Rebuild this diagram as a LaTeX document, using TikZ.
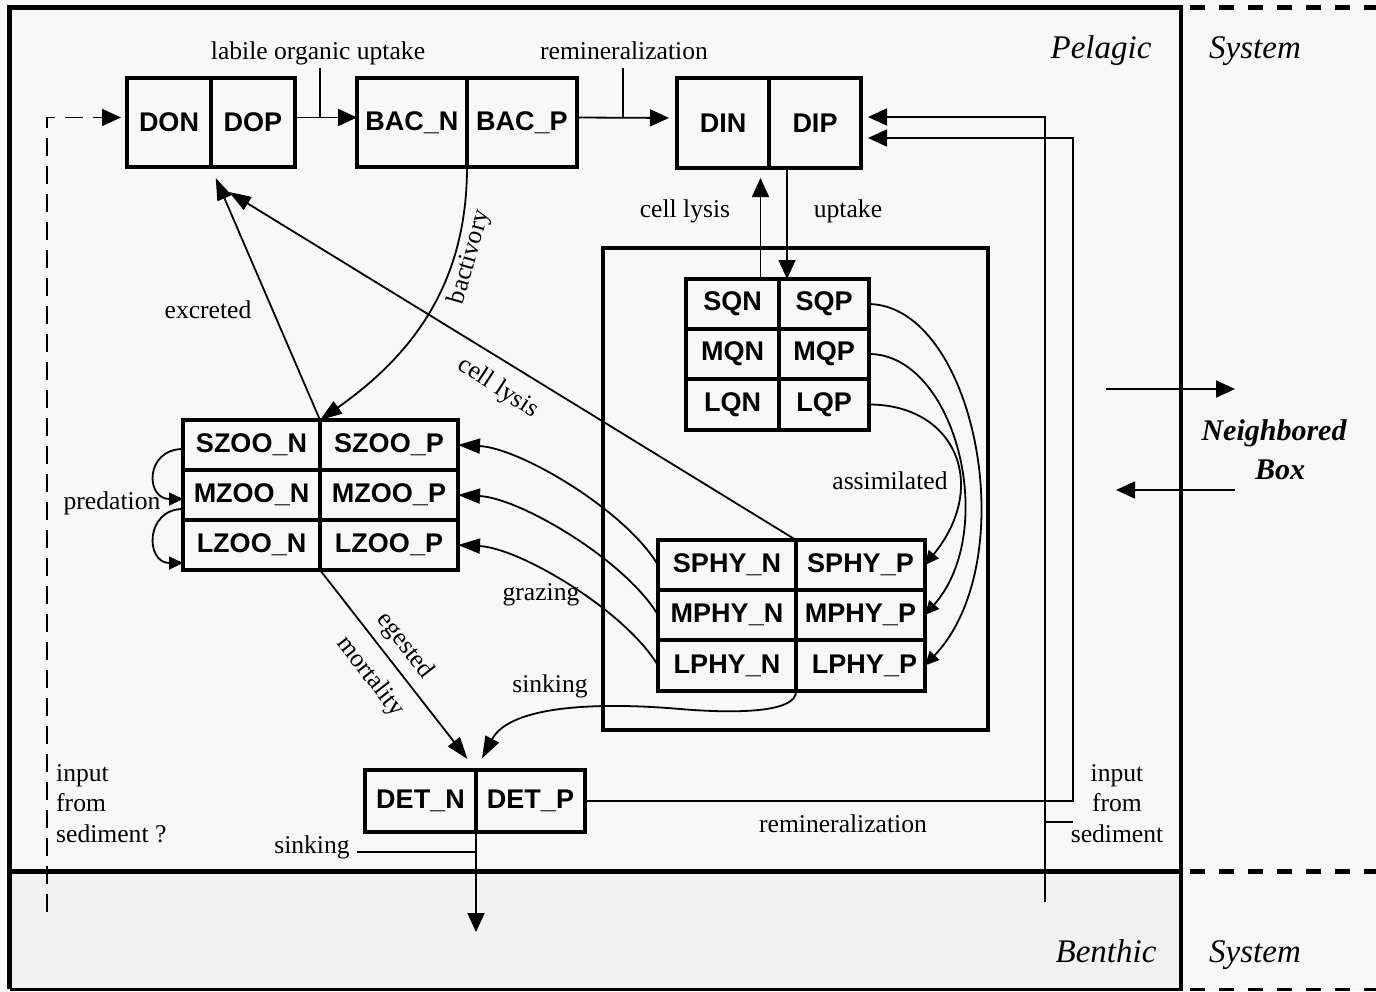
\documentclass[tikz,border=0pt]{standalone}
\usepackage{fontspec}
\setmainfont{Liberation Serif}
\setsansfont{Liberation Sans}
\usetikzlibrary{arrows.meta}
\definecolor{bgc}{RGB}{248,248,248}
\definecolor{benc}{RGB}{242,242,242}
\begin{document}
\begin{tikzpicture}[x=1pt,y=-1pt,
  cell/.style={draw, line width=3.4pt, inner sep=0pt, outer sep=0pt, font=\sffamily\bfseries\fontsize{27pt}{30pt}\selectfont},
  conn/.style={line width=1.8pt},
  arrA/.style={-{Triangle[length=19pt,width=17pt]}},
  arrB/.style={-{Triangle[length=22pt,width=15pt]}},
  arrC/.style={-{Triangle[length=14pt,width=13pt]}},
  lbl/.style={font=\fontsize{25.6pt}{30pt}\selectfont, inner sep=0pt, anchor=base},
  rlbl/.style={font=\fontsize{25.6pt}{30pt}\selectfont, inner sep=0pt},
  ttl/.style={font=\itshape\fontsize{33pt}{36pt}\selectfont, inner sep=0pt, anchor=base},
  nbt/.style={font=\bfseries\itshape\fontsize{30pt}{34pt}\selectfont, inner sep=0pt, anchor=base},
  frm/.style={line width=5pt},
  lead/.style={line width=1.2pt}
]
\useasboundingbox (0,0) rectangle (1376,991);
\fill[bgc] (0,0) rectangle (1376,991);
\fill[benc] (9,872) rectangle (1181,989);
% frame
\draw[frm] (1181,7.5) -- (9.5,7.5) -- (9.5,989);
\draw[line width=3pt] (9.5,989) -- (1181,989);
\draw[frm] (9.5,871.5) -- (1181,871.5);
\draw[line width=4.5pt] (1181,5) -- (1181,991);
\draw[frm, dash pattern=on 15pt off 14pt] (1190,7.5) -- (1376,7.5);
\draw[frm, dash pattern=on 15pt off 14pt] (1190,871.5) -- (1376,871.5);
\draw[line width=3pt, dash pattern=on 15pt off 14pt] (1190,989) -- (1376,989);
% titles
\node[ttl] (tPel) at (1101,58) {Pelagic};
\node[ttl] (tSys1) at (1255,58) {System};
\node[ttl] (tBen) at (1106,962) {Benthic};
\node[ttl] (tSys2) at (1255,962) {System};
\node[nbt] (tNb) at (1274,440) {Neighbored};
\node[nbt] (tBox) at (1280,479) {Box};
% phyto group box
\node[draw, line width=4pt, minimum width=385pt, minimum height=482pt, inner sep=0pt, outer sep=0pt] (phyto) at (795.5,489) {};
% cells
\node[cell, minimum width=84pt, minimum height=89pt] (DON) at (169,122.5) {DON};
\node[cell, minimum width=84pt, minimum height=89pt] (DOP) at (253,122.5) {DOP};
\node[cell, minimum width=110pt, minimum height=89pt] (BACN) at (412,122.5) {BAC\_N};
\node[cell, minimum width=110pt, minimum height=89pt] (BACP) at (522,122.5) {BAC\_P};
\node[cell, minimum width=92pt, minimum height=90pt] (DIN) at (723,123) {DIN};
\node[cell, minimum width=92pt, minimum height=90pt] (DIP) at (815,123) {DIP};
% quota
\node[cell, minimum width=93pt, minimum height=50pt] (SQN) at (732.5,304) {SQN};
\node[cell, minimum width=90pt, minimum height=50pt] (SQP) at (824,304) {SQP};
\node[cell, minimum width=93pt, minimum height=50pt] (MQN) at (732.5,354) {MQN};
\node[cell, minimum width=90pt, minimum height=50pt] (MQP) at (824,354) {MQP};
\node[cell, minimum width=93pt, minimum height=51pt] (LQN) at (732.5,404.5) {LQN};
\node[cell, minimum width=90pt, minimum height=51pt] (LQP) at (824,404.5) {LQP};
% zoo
\node[cell, minimum width=137pt, minimum height=50pt] (SZOON) at (251.5,445) {SZOO\_N};
\node[cell, minimum width=138pt, minimum height=50pt] (SZOOP) at (389,445) {SZOO\_P};
\node[cell, minimum width=137pt, minimum height=50pt] (MZOON) at (251.5,495) {MZOO\_N};
\node[cell, minimum width=138pt, minimum height=50pt] (MZOOP) at (389,495) {MZOO\_P};
\node[cell, minimum width=137pt, minimum height=50pt] (LZOON) at (251.5,545) {LZOO\_N};
\node[cell, minimum width=138pt, minimum height=50pt] (LZOOP) at (389,545) {LZOO\_P};
% phy
\node[cell, minimum width=138pt, minimum height=50pt] (SPHYN) at (727,565) {SPHY\_N};
\node[cell, minimum width=129pt, minimum height=50pt] (SPHYP) at (860.5,565) {SPHY\_P};
\node[cell, minimum width=138pt, minimum height=50pt] (MPHYN) at (727,615) {MPHY\_N};
\node[cell, minimum width=129pt, minimum height=50pt] (MPHYP) at (860.5,615) {MPHY\_P};
\node[cell, minimum width=138pt, minimum height=51pt] (LPHYN) at (727,665.5) {LPHY\_N};
\node[cell, minimum width=129pt, minimum height=51pt] (LPHYP) at (860.5,665.5) {\hspace*{8pt}LPHY\_P};
% det
\node[cell, minimum width=111pt, minimum height=62pt] (DETN) at (420.5,801) {DET\_N};
\node[cell, minimum width=109pt, minimum height=62pt] (DETP) at (530.5,801) {DET\_P};
% labels
\node[lbl] (lLOU) at (318,59) {labile organic uptake};
\node[lbl] (lRem1) at (624,59) {remineralization};
\node[lbl] (lLys1) at (685,217) {cell lysis};
\node[lbl] (lUpt) at (848,217) {uptake};
\node[lbl] (lExc) at (208,318) {excreted};
\node[lbl] (lAss) at (890,489) {assimilated};
\node[lbl] (lPred) at (112,509) {predation};
\node[lbl] (lGraz) at (541,600) {grazing};
\node[lbl] (lSink1) at (550,692) {sinking};
\node[lbl] (lSink2) at (312,853) {sinking};
\node[lbl] (lRem2) at (843,832) {remineralization};
\node[lbl] (rIn1) at (1117,781) {input};
\node[lbl] (rIn2) at (1117,811) {from};
\node[lbl] (rIn3) at (1117,842) {sediment};
\node[lbl, anchor=base west] (lIn1) at (56,781) {input};
\node[lbl, anchor=base west] (lIn2) at (56,811) {from};
\node[lbl, anchor=base west] (lIn3) at (56,842) {sediment ?};
\node[rlbl, rotate=74] (lBac) at (470,257) {bactivory};
\node[rlbl, rotate=-33] (lLys2) at (498,388) {cell lysis};
\node[rlbl, rotate=-52] (lEge) at (405,646) {egested};
\node[rlbl, rotate=-52] (lMor) at (370,677) {mortality};
% coordinates
\coordinate (dashStart) at (47,912);
\coordinate (tickA) at (320,68);
\coordinate (tickAe) at (320,117.5);
\coordinate (tickB) at (623,68);
\coordinate (tickBe) at (623,117.5);
\coordinate (lysA) at ([xshift=28pt]SQN.north);
\coordinate (uptA) at ([xshift=-37pt]SQP.north);
\coordinate (sedIn) at (1045,902);
\coordinate (sedTick) at (1073,822);
\coordinate (remC) at (1073,801);
\coordinate (lysEnd) at (229,192);
\coordinate (sinkEnd) at (476,932);
\coordinate (sinkTick) at (357,852);
\coordinate (nbA) at (1106,389);
\coordinate (nbB) at (1235,389);
\coordinate (nbC) at (1235,490);
\coordinate (nbD) at (1116,490);
% connectors
\draw[conn, arrA, dash pattern=on 18pt off 10pt, shorten >=6pt] (dashStart) |- ([yshift=5pt]DON.west);
\draw[conn, arrA] ([yshift=5pt]DOP.east) -- ([yshift=5pt]BACN.west);
\draw[lead] (tickA) -- (tickAe);
\draw[conn, arrA, shorten >=8pt] ([yshift=5pt]BACP.east) -- ([yshift=5pt]DIN.west);
\draw[lead] (tickB) -- (tickBe);
\draw[conn, arrA, shorten >=10pt] (lysA) -- (lysA |- DIN.south);
\draw[conn, arrA] (uptA |- DIN.south) -- (uptA);
\draw[conn, arrA, shorten >=7pt] (sedIn) |- ([yshift=6pt]DIP.east);
\draw[lead] (sedIn |- sedTick) -- (sedTick);
\draw[conn, arrA, shorten >=7pt] (DETP.east) -- (remC) |- ([yshift=-15pt]DIP.east);
\draw[conn, arrB, shorten >=12pt] (SZOON.north east) -- (DON.south east);
\draw[conn, arrB] (SPHYN.north east) -- (lysEnd);
\draw[conn, arrB] (BACN.south east) .. controls (467,282) and (414,354) .. (SZOON.north east);
\draw[conn, arrB, shorten >=14pt] (LZOON.south east) -- (DETN.north east);
\draw[conn, arrB, shorten >=13pt] (LPHYN.south east) .. controls (797,712) and (740,714) .. (680,709) .. controls (600,702) and (510,705) .. (DETN.north east);
\draw[conn, arrB] (SPHYN.west) .. controls (625,510) and (520,448) .. (SZOOP.east);
\draw[conn, arrB] (MPHYN.west) .. controls (625,560) and (520,498) .. (MZOOP.east);
\draw[conn, arrB] (LPHYN.west) .. controls (625,610.5) and (520,548) .. (LZOOP.east);
\draw[conn, arrC] (SQP.east) .. controls (975,306) and (1025,560) .. (LPHYP.east);
\draw[conn, arrC] (MQP.east) .. controls (955,354) and (1000,530) .. (MPHYP.east);
\draw[conn, arrC] (LQP.east) .. controls (955,404.5) and (990,485) .. (SPHYP.east);
\draw[conn, arrC] ([yshift=-4pt]SZOON.west) .. controls (145,449) and (145,499) .. ([yshift=-4pt]MZOON.west);
\draw[conn, arrC] ([yshift=-14pt]MZOON.west) .. controls (145,509) and (145,563) .. ([yshift=-18pt]LZOON.west);
\draw[conn, arrA] (DETN.south east) -- (sinkEnd);
\draw[lead] (sinkTick) -- (sinkTick -| DETN.south east);
\draw[conn, arrA] (nbA) -- (nbB);
\draw[conn, arrA] (nbC) -- (nbD);
\end{tikzpicture}
\end{document}
